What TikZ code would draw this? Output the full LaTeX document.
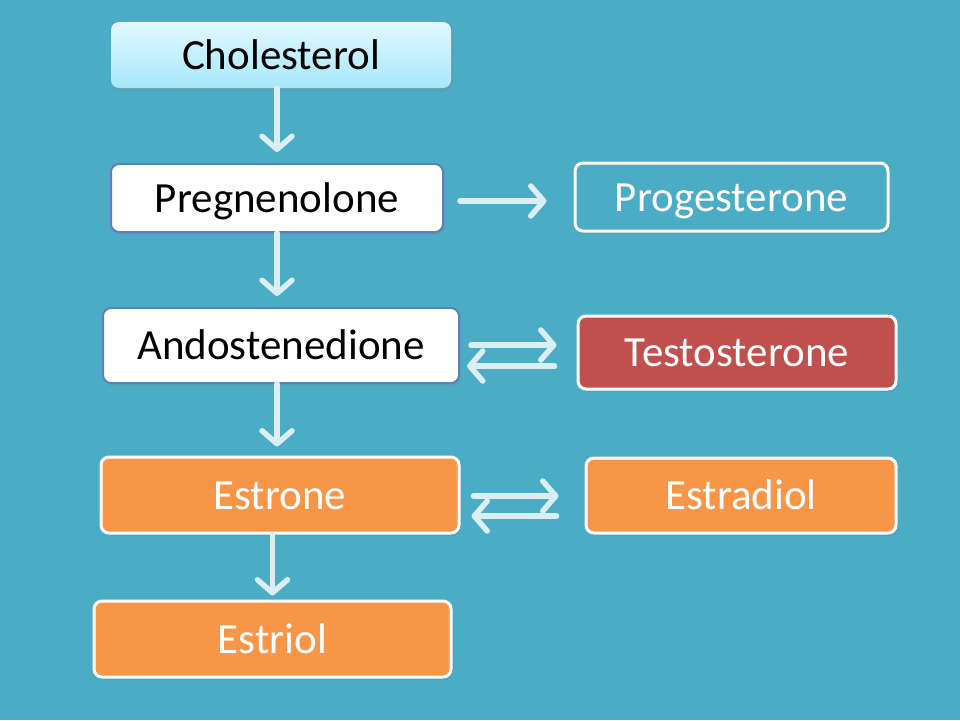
\documentclass[tikz,border=0pt]{standalone}
\usepackage{fontspec}
\setmainfont{Carlito}
\usetikzlibrary{arrows.meta,shadows}
\definecolor{bgc}{HTML}{4BACC6}
\definecolor{arrc}{HTML}{DAEEF3}
\definecolor{bluebd}{HTML}{5B80C2}
\definecolor{redf}{HTML}{C0504D}
\definecolor{orf}{HTML}{F79646}
\definecolor{choltop}{HTML}{E2F8FE}
\definecolor{cholbot}{HTML}{A6E8FB}
\tikzset{
  box/.style={rounded corners=8pt, inner sep=0pt, font=\fontsize{43}{47}\selectfont,
    text height=28pt, text depth=0pt,
    drop shadow={shadow xshift=2pt, shadow yshift=-3pt, opacity=0.25}},
  cholbox/.style={box, top color=choltop, bottom color=cholbot, draw=none, text=black},
  whitebox/.style={box, fill=white, draw=bluebd, line width=2pt, text=black},
  tealbox/.style={box, fill=bgc, draw=white, line width=3pt, text=white},
  redbox/.style={box, fill=redf, draw=white, line width=3pt, text=white},
  orbox/.style={box, fill=orf, draw=white, line width=3pt, text=white},
  arr/.style={draw=arrc, line width=5.5pt, line cap=round,
    -{Straight Barb[length=13pt,width=30pt,line cap=round,round]}},
}
\begin{document}
\begin{tikzpicture}[x=1pt,y=-1pt]
\fill[bgc] (0,0) rectangle (960,720);
\useasboundingbox (0,0) rectangle (960,720);

\node[cholbox, minimum width=340pt, minimum height=66pt] (chol) at (281,55) {Cholesterol};
\node[whitebox, minimum width=332pt, minimum height=68pt] (preg) at (277,198) {Pregnenolone};
\node[tealbox, minimum width=313pt, minimum height=68pt] (prog) at (731.5,197) {Progesterone};
\node[whitebox, minimum width=356pt, minimum height=75pt] (andro) at (281,345.5) {Andostenedione};
\node[redbox, minimum width=318pt, minimum height=73pt] (testo) at (737,352.5) {Testosterone};
\node[orbox, minimum width=358pt, minimum height=76pt] (estrone) at (280,495) {Estrone};
\node[orbox, minimum width=310pt, minimum height=75pt] (estradiol) at (741,495.5) {Estradiol};
\node[orbox, minimum width=357pt, minimum height=76pt] (estriol) at (272.5,639) {Estriol};

% vertical arrows
\draw[arr, shorten >=11pt] (preg.north |- chol.south) -- (preg.north);
\draw[arr, shorten >=11pt] (preg.south) -- (preg.south |- andro.north);
\draw[arr, shorten >=9pt] (preg.south |- andro.south) -- (preg.south |- estrone.north);
\draw[arr, shorten >=4pt] (estriol.north |- estrone.south) -- (estriol.north);

% horizontal arrows
\draw[arr, shorten <=16pt, shorten >=27pt] ([yshift=-3pt]preg.east) -- ([yshift=-3pt]preg.east -| prog.west);
\draw[arr, shorten <=11pt, shorten >=20pt] ([yshift=0.5pt]andro.east) -- ([yshift=0.5pt]andro.east -| testo.west);
\draw[arr, shorten <=22pt, shorten >=7pt] ([yshift=-20.5pt]andro.east -| testo.west) -- ([yshift=-20.5pt]andro.east);
\draw[arr, shorten <=13pt, shorten >=26pt] ([yshift=-1pt]estrone.east) -- ([yshift=-1pt]estrone.east -| estradiol.west);
\draw[arr, shorten <=28pt, shorten >=11pt] ([yshift=-21pt]estrone.east -| estradiol.west) -- ([yshift=-21pt]estrone.east);
\end{tikzpicture}
\end{document}
